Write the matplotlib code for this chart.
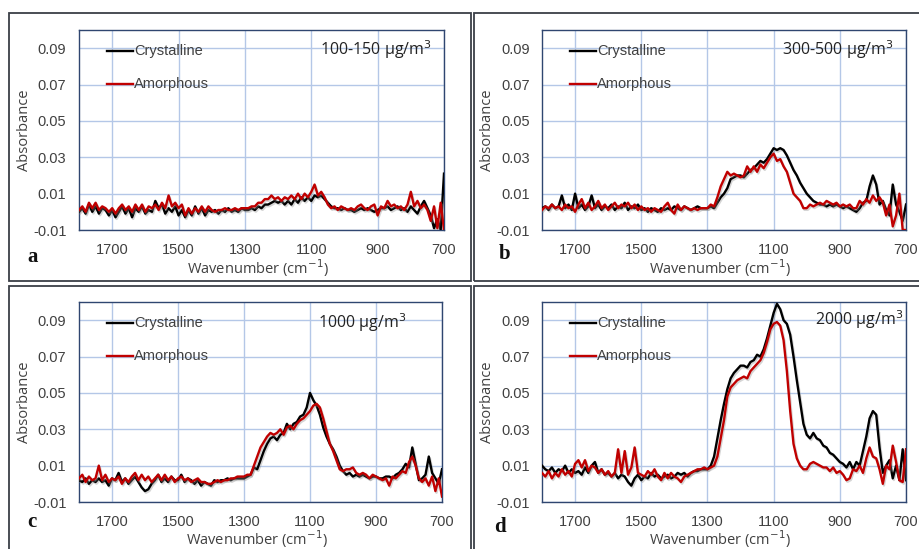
import numpy as np
import matplotlib
matplotlib.use("Agg")
import matplotlib.pyplot as plt
import matplotlib.patheffects as pe
from matplotlib.patches import Rectangle
from matplotlib.lines import Line2D

# wavenumbers, 1800 -> 700 cm-1, one reading every 10 cm-1
wavenumber = np.arange(1800, 699, -10)

# panel a, 100-150 ug/m3
cryst_a = [0.000, 0.002, -0.001, 0.004, 0.000, 0.003, -0.001, 0.002, 0.001, -0.002,
           0.001, -0.003, 0.000, 0.003, -0.001, 0.002, -0.003, 0.002, 0.000, 0.003,
           -0.001, 0.001, 0.000, 0.006, 0.002, 0.004, -0.001, 0.002, 0.000, 0.003,
           -0.002, 0.001, -0.003, 0.001, -0.002, 0.003, -0.001, 0.002, -0.002, 0.001,
           0.000, 0.001, -0.001, 0.001, 0.000, 0.002, 0.000, 0.001, 0.000, 0.002,
           0.001, 0.001, 0.002, 0.001, 0.003, 0.002, 0.004, 0.004, 0.005, 0.006,
           0.005, 0.006, 0.004, 0.006, 0.004, 0.007, 0.005, 0.008, 0.006, 0.008,
           0.006, 0.009, 0.008, 0.009, 0.007, 0.005, 0.003, 0.002, 0.002, 0.001,
           0.002, 0.001, 0.001, 0.000, 0.001, 0.002, 0.001, 0.002, 0.001, 0.000,
           0.001, 0.002, 0.002, 0.003, 0.001, 0.002, 0.003, 0.001, 0.002, 0.000,
           0.003, 0.001, -0.001, 0.003, 0.006, 0.002, -0.002, -0.009, -0.004, -0.010,
           0.021]
amorph_a = [0.001, 0.003, 0.000, 0.005, 0.002, 0.005, 0.001, 0.003, 0.002, 0.000,
            0.002, -0.001, 0.002, 0.004, 0.001, 0.003, 0.000, 0.004, 0.001, 0.004,
            0.000, 0.003, 0.002, 0.004, 0.001, 0.005, 0.002, 0.009, 0.003, 0.005,
            0.002, 0.004, -0.002, 0.002, -0.001, 0.002, 0.000, 0.003, 0.000, 0.003,
            0.001, 0.000, 0.001, 0.001, 0.002, 0.001, 0.001, 0.002, 0.001, 0.002,
            0.002, 0.002, 0.003, 0.003, 0.005, 0.005, 0.007, 0.007, 0.009, 0.007,
            0.008, 0.006, 0.008, 0.007, 0.009, 0.007, 0.010, 0.007, 0.010, 0.008,
            0.011, 0.015, 0.009, 0.011, 0.008, 0.004, 0.002, 0.003, 0.001, 0.003,
            0.002, 0.001, 0.002, 0.001, 0.003, 0.004, 0.002, 0.001, 0.003, 0.004,
            -0.002, 0.003, 0.002, 0.006, 0.003, 0.004, 0.002, 0.003, 0.001, 0.004,
            0.011, 0.003, 0.006, 0.002, 0.004, 0.001, -0.005, 0.003, -0.009, 0.005,
            -0.010]

# panel b, 300-500 ug/m3
cryst_b = [0.002, 0.003, 0.001, 0.004, 0.002, 0.003, 0.009, 0.002, 0.004, 0.001,
           0.010, 0.002, 0.004, 0.001, 0.003, 0.009, 0.002, 0.004, 0.001, 0.003,
           0.002, 0.004, 0.001, 0.003, 0.002, 0.005, 0.001, 0.003, 0.002, 0.004,
           0.001, 0.002, 0.000, 0.002, 0.001, 0.000, 0.002, 0.001, 0.002, 0.001,
           0.003, 0.002, 0.001, 0.003, 0.002, 0.001, 0.002, 0.003, 0.002, 0.002,
           0.002, 0.003, 0.002, 0.005, 0.008, 0.010, 0.013, 0.018, 0.019, 0.020,
           0.020, 0.019, 0.021, 0.023, 0.024, 0.026, 0.028, 0.027, 0.029, 0.032,
           0.035, 0.034, 0.035, 0.034, 0.031, 0.027, 0.023, 0.020, 0.016, 0.013,
           0.010, 0.008, 0.006, 0.005, 0.004, 0.004, 0.003, 0.004, 0.003, 0.004,
           0.003, 0.002, 0.003, 0.002, 0.001, 0.000, 0.002, 0.005, 0.006, 0.014,
           0.020, 0.015, 0.004, 0.006, 0.001, -0.002, 0.015, 0.004, 0.000, -0.005,
           0.004]
amorph_b = [0.001, 0.003, 0.002, 0.004, 0.002, 0.003, 0.001, 0.004, 0.002, 0.003,
            0.000, 0.004, 0.007, 0.002, 0.005, 0.001, 0.003, 0.006, 0.002, 0.004,
            0.001, 0.003, 0.005, 0.002, 0.004, 0.003, 0.005, 0.002, 0.004, 0.001,
            0.003, 0.001, 0.002, 0.000, 0.002, 0.001, 0.000, 0.003, 0.005, 0.001,
            -0.001, 0.004, 0.001, 0.003, 0.002, 0.001, 0.002, 0.001, 0.002, 0.002,
            0.002, 0.004, 0.003, 0.008, 0.014, 0.018, 0.022, 0.020, 0.021, 0.020,
            0.019, 0.020, 0.025, 0.022, 0.025, 0.022, 0.026, 0.024, 0.027, 0.030,
            0.032, 0.028, 0.029, 0.025, 0.022, 0.016, 0.010, 0.008, 0.006, 0.002,
            0.002, 0.004, 0.003, 0.004, 0.005, 0.004, 0.006, 0.005, 0.004, 0.005,
            0.003, 0.004, 0.003, 0.004, 0.002, 0.002, 0.006, 0.004, 0.007, 0.005,
            0.009, 0.006, 0.008, 0.005, -0.002, 0.004, -0.008, -0.002, 0.010, -0.010,
            -0.010]

# panel c, 1000 ug/m3
cryst_c = [0.002, 0.001, 0.003, 0.000, 0.002, 0.001, 0.003, 0.001, 0.002, -0.001,
           0.003, 0.002, 0.006, 0.001, 0.003, 0.000, 0.002, 0.004, 0.001, -0.002,
           -0.004, -0.003, 0.000, 0.002, 0.005, 0.001, 0.003, 0.001, 0.004, 0.002,
           0.002, 0.005, 0.001, 0.003, 0.002, 0.000, 0.002, -0.001, 0.001, 0.000,
           -0.001, 0.002, 0.001, 0.002, 0.002, 0.003, 0.002, 0.003, 0.003, 0.003,
           0.003, 0.004, 0.005, 0.009, 0.008, 0.013, 0.018, 0.022, 0.025, 0.026,
           0.024, 0.027, 0.028, 0.033, 0.030, 0.033, 0.034, 0.037, 0.038, 0.042,
           0.050, 0.046, 0.043, 0.038, 0.031, 0.026, 0.022, 0.019, 0.015, 0.010,
           0.007, 0.005, 0.006, 0.004, 0.005, 0.004, 0.005, 0.004, 0.003, 0.004,
           0.004, 0.003, 0.003, 0.004, 0.004, 0.003, 0.005, 0.006, 0.008, 0.011,
           0.009, 0.020, 0.011, 0.002, 0.003, 0.005, 0.015, 0.006, 0.003, 0.000,
           0.008]
amorph_c = [0.003, 0.005, 0.001, 0.004, 0.002, 0.003, 0.010, 0.002, 0.005, 0.001,
            0.003, 0.002, 0.004, 0.000, 0.003, 0.001, 0.004, 0.006, 0.002, 0.005,
            0.002, 0.004, 0.001, 0.003, 0.005, 0.002, 0.005, 0.002, 0.004, 0.001,
            0.003, 0.004, 0.002, 0.003, 0.001, 0.002, 0.003, 0.001, 0.001, 0.000,
            0.000, 0.001, 0.002, 0.001, 0.002, 0.002, 0.003, 0.003, 0.004, 0.004,
            0.004, 0.005, 0.005, 0.010, 0.015, 0.020, 0.023, 0.026, 0.028, 0.027,
            0.028, 0.030, 0.027, 0.031, 0.032, 0.030, 0.033, 0.035, 0.036, 0.038,
            0.040, 0.043, 0.044, 0.042, 0.036, 0.029, 0.022, 0.018, 0.013, 0.008,
            0.007, 0.008, 0.008, 0.009, 0.006, 0.005, 0.006, 0.005, 0.003, 0.005,
            0.004, 0.003, 0.002, 0.003, -0.001, 0.004, 0.003, 0.005, 0.007, 0.006,
            0.012, 0.015, 0.010, 0.003, 0.001, 0.003, -0.001, 0.004, -0.004, 0.003,
            -0.007]

# panel d, 2000 ug/m3
cryst_d = [0.010, 0.008, 0.007, 0.009, 0.006, 0.008, 0.007, 0.010, 0.006, 0.008,
           0.006, 0.007, 0.005, 0.009, 0.006, 0.010, 0.012, 0.006, 0.008, 0.005,
           0.006, 0.004, 0.006, 0.003, 0.005, 0.004, 0.001, -0.001, 0.003, 0.005,
           0.002, 0.004, 0.003, 0.006, 0.004, 0.005, 0.003, 0.004, 0.005, 0.003,
           0.004, 0.006, 0.005, 0.006, 0.004, 0.006, 0.007, 0.007, 0.008, 0.008,
           0.008, 0.010, 0.015, 0.025, 0.035, 0.044, 0.052, 0.058, 0.061, 0.063,
           0.065, 0.065, 0.064, 0.067, 0.068, 0.071, 0.070, 0.074, 0.080, 0.087,
           0.094, 0.099, 0.096, 0.090, 0.088, 0.082, 0.070, 0.057, 0.045, 0.033,
           0.027, 0.025, 0.028, 0.025, 0.024, 0.021, 0.020, 0.017, 0.016, 0.014,
           0.012, 0.011, 0.009, 0.012, 0.008, 0.012, 0.010, 0.018, 0.026, 0.036,
           0.040, 0.038, 0.020, 0.006, 0.010, 0.013, 0.003, 0.010, 0.002, 0.019,
           0.002]
amorph_d = [0.006, 0.004, 0.007, 0.003, 0.006, 0.004, 0.008, 0.005, 0.007, 0.004,
            0.011, 0.013, 0.009, 0.013, 0.007, 0.010, 0.009, 0.006, 0.008, 0.005,
            0.007, 0.004, 0.006, 0.019, 0.006, 0.018, 0.005, 0.009, 0.020, 0.006,
            0.005, 0.004, 0.007, 0.005, 0.008, 0.004, 0.002, 0.006, 0.003, 0.006,
            0.004, 0.003, 0.001, 0.004, 0.005, 0.006, 0.007, 0.008, 0.008, 0.009,
            0.008, 0.009, 0.010, 0.015, 0.025, 0.035, 0.048, 0.053, 0.055, 0.057,
            0.058, 0.059, 0.058, 0.062, 0.064, 0.066, 0.068, 0.072, 0.078, 0.085,
            0.088, 0.089, 0.087, 0.079, 0.062, 0.040, 0.022, 0.014, 0.010, 0.008,
            0.008, 0.011, 0.012, 0.011, 0.010, 0.009, 0.009, 0.007, 0.009, 0.006,
            0.007, 0.005, 0.002, 0.003, 0.008, 0.007, 0.010, 0.006, 0.014, 0.020,
            0.015, 0.014, 0.008, 0.000, 0.010, 0.008, 0.021, 0.012, 0.002, 0.001,
            0.019]

conc_labels = ["100-150 \u03bcg/m$^3$", "300-500 \u03bcg/m$^3$",
               "1000 \u03bcg/m$^3$", "2000 \u03bcg/m$^3$"]
panel_letters = ["a", "b", "c", "d"]
x_ticks = [1700, 1500, 1300, 1100, 900, 700]
y_ticks = [-0.01, 0.01, 0.03, 0.05, 0.07, 0.09]

W, H = 919, 549
fig = plt.figure(figsize=(W / 100, H / 100), dpi=100)
fig.patch.set_facecolor("white")


def fx(p):
    return p / W


def fy(p):
    return 1 - p / H


# outer frames around each panel
for (x0, y0, x1, y1) in [(9, 13, 471, 281), (474, 13, 925, 281),
                         (9, 286, 471, 555), (474, 286, 925, 555)]:
    fig.patches.append(Rectangle((fx(x0), fy(y1)), fx(x1 - x0), (y1 - y0) / H,
                                 transform=fig.transFigure, fill=False,
                                 edgecolor="#3a3f47", lw=1.3, zorder=0))

# axes boxes in pixels: left, top, right, bottom
boxes = [(79, 30, 444, 230), (542, 30, 906, 230), (79, 302, 442, 502), (542, 302, 906, 502)]
series = [(cryst_a, amorph_a), (cryst_b, amorph_b), (cryst_c, amorph_c), (cryst_d, amorph_d)]
conc_pos = [(320, 50), (782, 50), (318, 323), (815, 320)]
letter_pos = [(33, 257), (505, 254), (32, 522), (500, 527)]
legend_x = [107, 570, 107, 570]
xlabel_y = [268, 268, 539, 539]
ylabel_x = [25, 488, 25, 488]

grid_c = "#b4c7e7"
spine_c = "#2f4670"
text_c = "#404040"
shadow = [pe.SimpleLineShadow(offset=(0.8, -1.2), shadow_color="#888888", alpha=0.35), pe.Normal()]

for i, (l, t, r, b) in enumerate(boxes):
    ax = fig.add_axes([fx(l), fy(b), fx(r - l), (b - t) / H])
    cr, am = series[i]
    ax.plot(wavenumber, cr, color="black", lw=1.7, path_effects=shadow, zorder=3)
    ax.plot(wavenumber, am, color="#c00000", lw=1.7, path_effects=shadow, zorder=4)
    ax.set_xlim(1800, 700)
    ax.set_ylim(-0.01, 0.1)
    ax.set_xticks(x_ticks)
    ax.set_yticks(y_ticks)
    ax.set_yticklabels(["%.2f" % v for v in y_ticks])
    ax.grid(True, color=grid_c, lw=1.0, zorder=0)
    ax.set_axisbelow(True)
    ax.tick_params(length=0, labelsize=10.5, colors=text_c, pad=9)
    for lab in ax.get_xticklabels() + ax.get_yticklabels():
        lab.set_family("Liberation Sans")
    for s in ax.spines.values():
        s.set_color(spine_c)
        s.set_linewidth(1.0)

    # axis titles placed by hand, like the original layout
    fig.text(fx((l + r) / 2 - 4), fy(xlabel_y[i]), "Wavenumber (cm$^{-1}$)", fontsize=10.5,
             color=text_c, family="Open Sans", ha="center", va="center")
    fig.text(fx(ylabel_x[i]), fy((t + b) / 2), "Absorbance", fontsize=10.5, rotation=90,
             color=text_c, family="Open Sans", ha="center", va="center")

    # in-plot legend
    lx = legend_x[i]
    for k, (name, col) in enumerate([("Crystalline", "black"), ("Amorphous", "#c00000")]):
        yy = t + 21 + k * 33
        fig.add_artist(Line2D([fx(lx), fx(lx + 26)], [fy(yy), fy(yy)], color=col, lw=1.7,
                              transform=fig.transFigure))
        fig.text(fx(lx + 27), fy(yy), name, fontsize=10.5, color=text_c,
                 family="Liberation Sans", va="center", ha="left")

    cx, cy = conc_pos[i]
    fig.text(fx(cx), fy(cy), conc_labels[i], fontsize=11.5, color="#222222",
             family="Open Sans", va="center", ha="left")
    px, py = letter_pos[i]
    fig.text(fx(px), fy(py), panel_letters[i], fontsize=15, fontweight="bold",
             family="Liberation Serif", va="center", ha="center", color="#111111")

fig.savefig("out.png", dpi=100, facecolor="white")
